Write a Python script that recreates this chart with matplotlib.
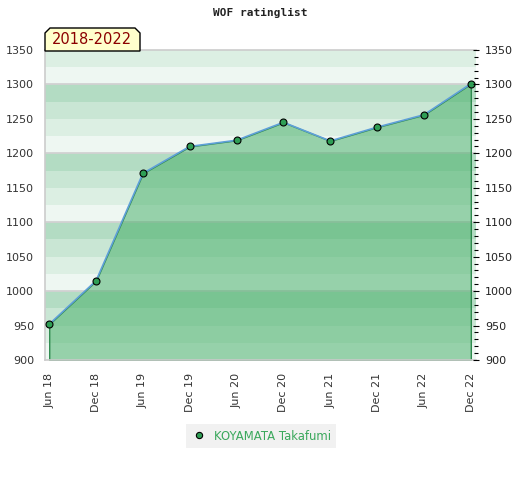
import numpy as np
import matplotlib
matplotlib.use('Agg')
import matplotlib.pyplot as plt
from matplotlib.lines import Line2D
from matplotlib.patches import Polygon
from matplotlib.ticker import MultipleLocator

# data
PERIODS = ['Jun 18', 'Dec 18', 'Jun 19', 'Dec 19', 'Jun 20',
           'Dec 20', 'Jun 21', 'Dec 21', 'Jun 22', 'Dec 22']
RATINGS = [952, 1015, 1171, 1210, 1219, 1245, 1218, 1238, 1256, 1301]
PLAYER = 'KOYAMATA Takafumi'
TITLE = 'WOF ratinglist'
RANGE_LABEL = '2018-2022'
Y_MIN, Y_MAX = 900, 1350

# stripe shades inside each 100-point block, bottom to top
STRIPES = ['#eef7f2', '#dcefe3', '#c9e6d4', '#b3dcc3']
FILL_RGBA = (0.25, 0.68, 0.39, 0.5)
LINE_COLOR = '#5fa0d8'
MARKER_COLOR = '#2f9e55'
TEXT_COLOR = '#333333'

fig = plt.figure(figsize=(5.2, 4.8), dpi=100)
ax = fig.add_axes([45 / 520, 1 - 360 / 480, 430.5 / 520, 310 / 480])

for i, lo in enumerate(range(Y_MIN, Y_MAX, 25)):
    ax.axhspan(lo, lo + 25, color=STRIPES[i % 4], lw=0, zorder=0)
for y in range(Y_MIN + 100, Y_MAX, 100):
    ax.axhline(y, color='#d2d2d2', lw=1.3, zorder=1)

x = np.arange(len(PERIODS))
ax.fill_between(x, RATINGS, Y_MIN, facecolor=FILL_RGBA,
                edgecolor='#2f8a4e', lw=1.0, zorder=2)
ax.plot(x, RATINGS, color=LINE_COLOR, lw=1.2, zorder=3)
ax.plot(x, RATINGS, ls='none', marker='o', ms=5, mfc=MARKER_COLOR,
        mec='black', mew=0.8, zorder=4)

ax.set_xlim(-0.09, len(PERIODS) - 1 + 0.1)
ax.set_ylim(Y_MIN, Y_MAX)
ax.set_xticks(x)
ax.set_xticklabels(PERIODS, rotation=90, fontsize=8, color=TEXT_COLOR)
ax.yaxis.set_major_locator(MultipleLocator(50))
ax.tick_params(axis='x', length=0, pad=9)
ax.tick_params(axis='y', length=0, pad=8, labelsize=8, labelcolor=TEXT_COLOR)
for side in ['left', 'bottom', 'top']:
    ax.spines[side].set_color('#cccccc')
    ax.spines[side].set_linewidth(1.2)
ax.spines['right'].set_visible(False)

ax2 = ax.twinx()
ax2.set_ylim(Y_MIN, Y_MAX)
ax2.yaxis.set_major_locator(MultipleLocator(50))
ax2.yaxis.set_minor_locator(MultipleLocator(10))
ax2.tick_params(axis='y', which='major', length=4, width=0.8, pad=5,
                labelsize=8, labelcolor='#222222', direction='inout')
ax2.tick_params(axis='y', which='minor', length=3, width=0.8, direction='inout')
for side in ax2.spines:
    ax2.spines[side].set_visible(False)

fig.text(0.5, 1 - 13 / 480, TITLE, ha='center', va='center',
         fontsize=8, fontweight='bold', family='DejaVu Sans Mono', color='#222222')

# year range tag with clipped top corners
l, r, b, t, c = 45, 140, 51, 28, 5
pts = [(l, b), (l, t + c), (l + c, t), (r - c, t), (r, t + c), (r, b)]
pts = [(px / 520, 1 - py / 480) for px, py in pts]
fig.patches.append(Polygon(pts, closed=True, facecolor='#ffffcc', edgecolor='black',
                           lw=1.0, transform=fig.transFigure, zorder=5))
fig.text(52 / 520, 1 - 40 / 480, RANGE_LABEL, ha='left', va='center',
         fontsize=10.5, color='#8b0000', zorder=6)

handle = Line2D([], [], ls='none', marker='o', ms=4.5, mfc=MARKER_COLOR,
                mec='black', mew=0.8)
leg = fig.legend([handle], [PLAYER], loc='center', bbox_to_anchor=(261 / 520, 1 - 436 / 480),
                 frameon=True, fontsize=8.4, handletextpad=0.6, borderpad=0.45,
                 fancybox=False, handlelength=1.3)
leg.get_frame().set_facecolor('#eeeeee')
leg.get_frame().set_edgecolor('none')
for txt in leg.get_texts():
    txt.set_color('#3aa85c')

fig.savefig('out.png', dpi=100)
